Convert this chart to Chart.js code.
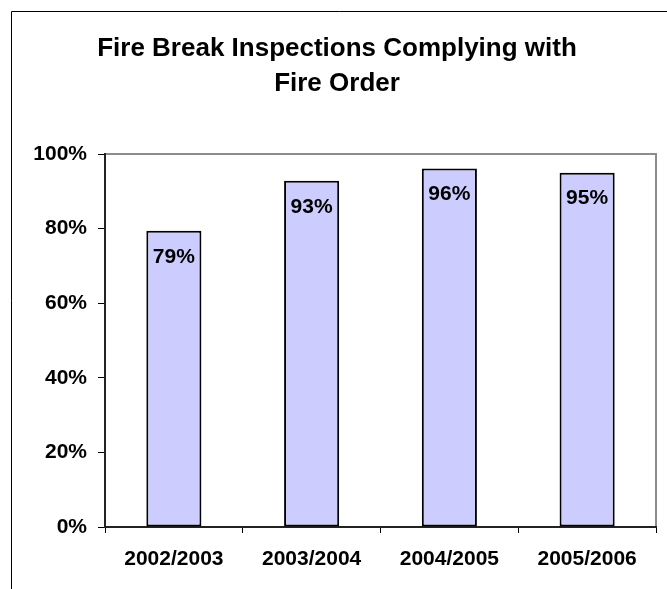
<!DOCTYPE html>
<html>
<head>
<meta charset="utf-8">
<script src="https://cdn.jsdelivr.net/npm/chart.js@4/dist/chart.umd.min.js"></script>
<style>
    body { margin: 0; background: #fff; }
    #wrap { width: 667px; height: 589px; }
</style>
</head>
<body>
<div id="wrap"><canvas id="inspections-chart" width="667" height="589"></canvas></div>
<script>
const seasons = ['2002/2003', '2003/2004', '2004/2005', '2005/2006'];
const complyingPercent = [79.4, 92.8, 96.1, 95.0];
const titleLines = ['Fire Break Inspections Complying with', 'Fire Order'];

const FONT = 'Arial, "Liberation Sans", sans-serif';

// outer chart frame + grey plot area border (top and right)
const frameLines = {
    id: 'frameLines',
    beforeDraw(chart) {
        const ctx = chart.ctx;
        const area = chart.chartArea;
        ctx.save();
        ctx.strokeStyle = '#000';
        ctx.lineWidth = 1;
        ctx.beginPath();
        ctx.moveTo(11.5, chart.height);
        ctx.lineTo(11.5, 11.5);
        ctx.lineTo(chart.width, 11.5);
        ctx.stroke();

        ctx.strokeStyle = '#8c8c8c';
        ctx.lineWidth = 2;
        ctx.beginPath();
        ctx.moveTo(area.left, area.top);
        ctx.lineTo(area.right, area.top);
        ctx.lineTo(area.right, area.bottom);
        ctx.stroke();
        ctx.restore();
    }
};

// value labels inside the top of each bar
const barLabels = {
    id: 'barLabels',
    afterDatasetsDraw(chart) {
        const ctx = chart.ctx;
        const meta = chart.getDatasetMeta(0);
        ctx.save();
        ctx.font = 'bold 21px ' + FONT;
        ctx.fillStyle = '#000';
        ctx.textAlign = 'center';
        ctx.textBaseline = 'middle';
        meta.data.forEach(function(bar, i) {
            ctx.fillText(Math.round(complyingPercent[i]) + '%', bar.x, bar.y + 26);
        });
        ctx.restore();
    }
};

new Chart(document.getElementById('inspections-chart'), {
    type: 'bar',
    data: {
        labels: seasons,
        datasets: [{
            data: complyingPercent,
            backgroundColor: '#ccccff',
            borderColor: '#000',
            borderWidth: 2,
            borderSkipped: false,
            categoryPercentage: 1,
            barPercentage: 0.4
        }]
    },
    options: {
        responsive: false,
        animation: false,
        layout: {
            padding: { left: 18, right: 11, top: 0, bottom: 0 }
        },
        scales: {
            y: {
                min: 0,
                max: 100,
                afterFit: function(scale) { scale.width = 87; },
                ticks: {
                    stepSize: 20,
                    padding: 11,
                    color: '#000',
                    font: { family: FONT, size: 21, weight: 'bold' },
                    callback: function(value) { return value + '%'; }
                },
                grid: {
                    drawOnChartArea: false,
                    drawTicks: true,
                    tickLength: 7,
                    tickColor: '#000',
                    lineWidth: 1
                },
                border: { display: true, color: '#222', width: 2 }
            },
            x: {
                afterFit: function(scale) { scale.height = 62; },
                ticks: {
                    padding: 14,
                    color: '#000',
                    font: { family: FONT, size: 21, weight: 'bold' }
                },
                grid: {
                    drawOnChartArea: false,
                    drawTicks: true,
                    tickLength: 6,
                    tickColor: '#000',
                    lineWidth: 1
                },
                border: { display: true, color: '#222', width: 2 }
            }
        },
        plugins: {
            legend: { display: false },
            tooltip: { enabled: false },
            title: {
                display: true,
                text: titleLines,
                color: '#000',
                font: { family: FONT, size: 26, weight: 'bold', lineHeight: 34.5 / 26 },
                padding: { top: 32, bottom: 53 }
            }
        }
    },
    plugins: [frameLines, barLabels]
});
</script>
</body>
</html>
